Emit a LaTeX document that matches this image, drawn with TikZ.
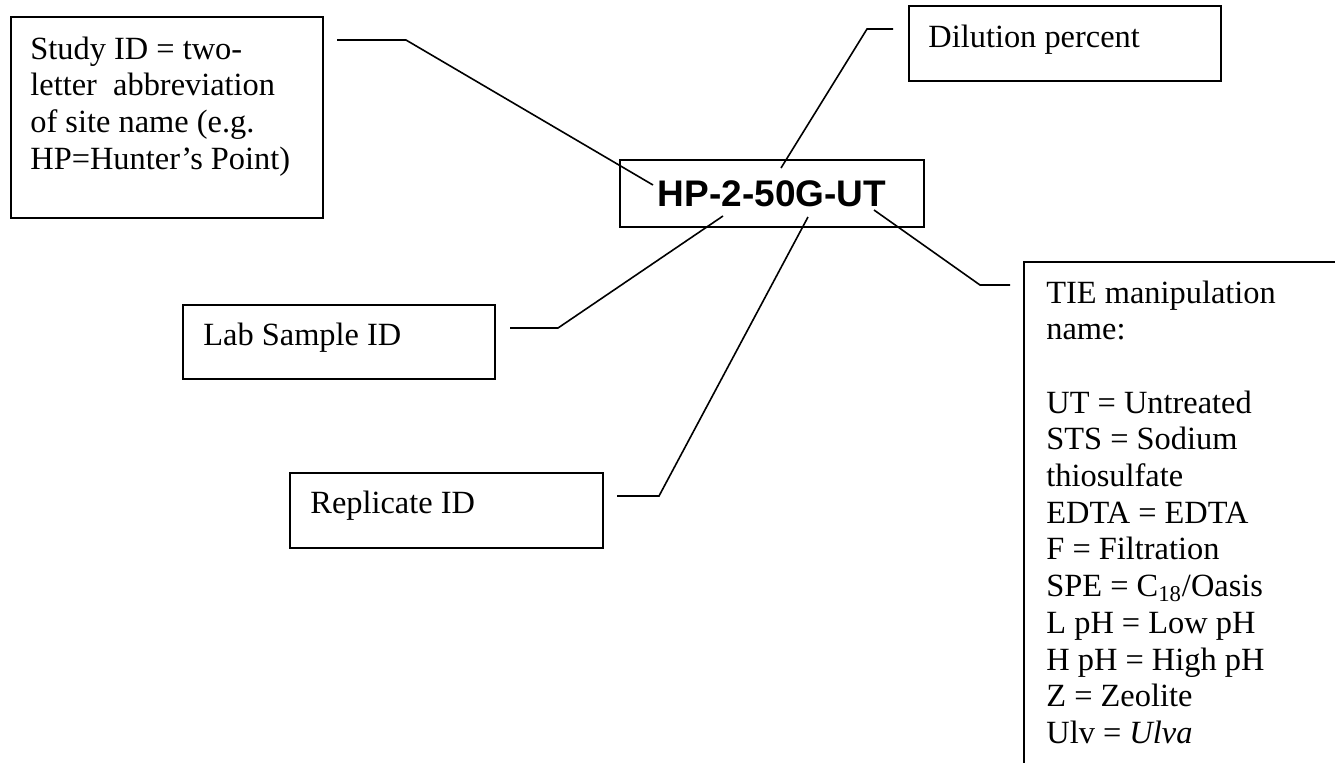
\documentclass[tikz,border=0pt]{standalone}
\usepackage{fontspec}
\setmainfont{Liberation Serif}
\newfontfamily\codefont{Liberation Sans}
\definecolor{LineColor}{RGB}{0,0,0}
\definecolor{TextColor}{RGB}{0,0,0}
\usepackage{tikz}
\usetikzlibrary{positioning, calc}
\newcommand{\notefont}{\fontsize{16.2}{18.35}\selectfont}
\newcommand{\notelines}[1]{\begin{tabular}[t]{@{}l@{}}#1\end{tabular}}
\tikzstyle{box} = [rectangle, draw=LineColor, line width=0.9pt, inner sep=0pt, anchor=north west]
\tikzstyle{leader} = [LineColor, line width=0.8pt]
\tikzset{
  note/.style={anchor=base west, inner sep=0pt, text=TextColor, font=\notefont},
  code/.style={rectangle, draw=LineColor, line width=0.9pt, minimum width=152pt, minimum height=33.5pt, font=\codefont\bfseries\fontsize{18.5}{20}\selectfont}
}

\begin{document}
\begin{tikzpicture}[x=0.5pt, y=-0.5pt]
    \useasboundingbox (0,0) rectangle (1335,762);
    \clip (0,0) rectangle (1335,762);

    % Sample code
    \node[code] (code) at (772,193.5) {HP-2-50G-UT};

    % Study ID
    \node[box, minimum width=156pt, minimum height=100.5pt] (studybox) at (10,16) {};
    \node[note] (studytext) at (30,59) {\notelines{Study ID = two-\\letter\ \ abbreviation\\of site name (e.g.\\HP=Hunter’s Point)}};

    % Dilution percent
    \node[box, minimum width=156pt, minimum height=37.5pt] (dilutionbox) at (908,5) {};
    \node[note] (dilutiontext) at (928,47) {Dilution percent};

    % Lab sample ID
    \node[box, minimum width=156pt, minimum height=37pt] (labbox) at (182,304) {};
    \node[note] (labtext) at (203,345) {Lab Sample ID};

    % Replicate ID
    \node[box, minimum width=156.5pt, minimum height=37.5pt] (replicatebox) at (289,472) {};
    \node[note] (replicatetext) at (310,513) {Replicate ID};

    % TIE manipulation
    \node[box, minimum width=161pt, minimum height=264.5pt] (tiebox) at (1023,261) {};
    \node[note] (tietext) at (1046,303) {\notelines{TIE manipulation\\name:\\ \\UT = Untreated\\STS = Sodium\\thiosulfate\\EDTA = EDTA\\F = Filtration\\SPE = C\textsubscript{18}/Oasis\\L pH = Low pH\\H pH = High pH\\Z = Zeolite\\Ulv = \textit{Ulva}}};

    % Leader lines
    \coordinate (studystart) at (337,40);
    \coordinate (studybend) at (406,40);
    \coordinate (studytip) at (653,185);
    \draw[leader] (studystart) -- (studybend) -- (studytip);

    \coordinate (dilutionstart) at (893,29);
    \coordinate (dilutionbend) at (867,29);
    \coordinate (dilutiontip) at (781,168);
    \draw[leader] (dilutionstart) -- (dilutionbend) -- (dilutiontip);

    \coordinate (labstart) at (510,328);
    \coordinate (labbend) at (558,328);
    \coordinate (labtip) at (723,216);
    \draw[leader] (labstart) -- (labbend) -- (labtip);

    \coordinate (replicatestart) at (617,496);
    \coordinate (replicatebend) at (659,496);
    \coordinate (replicatetip) at (808,217);
    \draw[leader] (replicatestart) -- (replicatebend) -- (replicatetip);

    \coordinate (tiestart) at (1010,285);
    \coordinate (tiebend) at (980,285);
    \coordinate (tietip) at (874,210);
    \draw[leader] (tiestart) -- (tiebend) -- (tietip);
\end{tikzpicture}
\end{document}
